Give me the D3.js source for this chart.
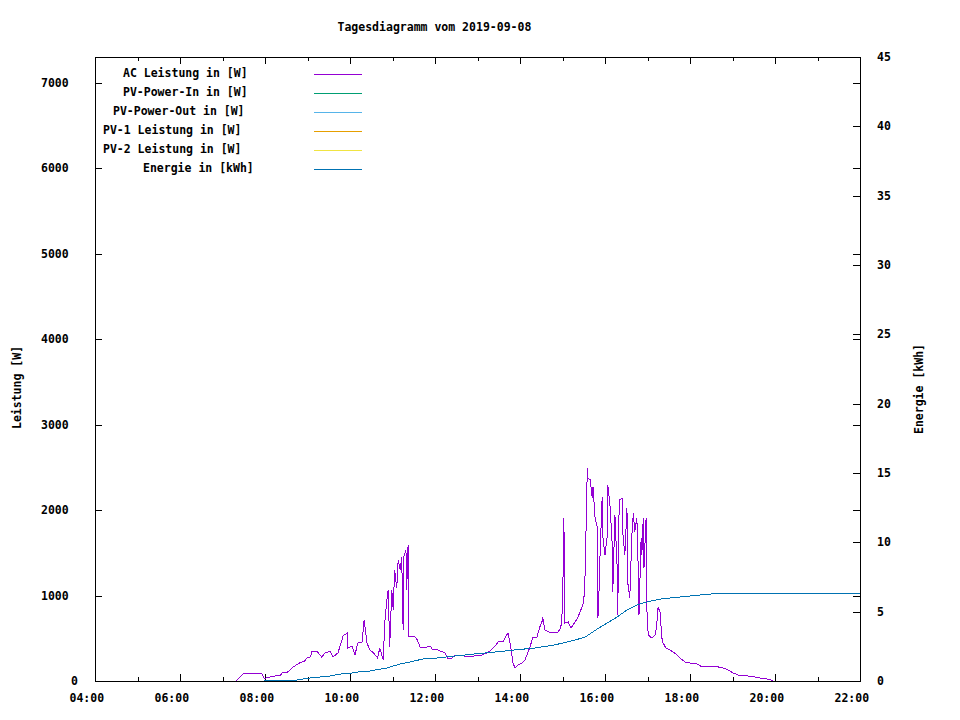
<!DOCTYPE html>
<html>
<head>
<meta charset="utf-8">
<script src="https://cdn.jsdelivr.net/npm/d3@7"></script>
<style>
  body { margin: 0; background: #fff; }
  text { font-family: "DejaVu Sans Mono", monospace; font-weight: bold; font-size: 11.5px; fill: #000; }
</style>
</head>
<body>
<div id="chart"></div>
<script>
// AC Leistung in W
var acTimes = ["07:19","07:25","07:29","07:39","07:46","07:53","07:56","07:59","08:01","08:07",
  "08:14","08:21","08:25","08:32","08:38","08:42","08:49","08:56","08:59","09:04",
  "09:06","09:13","09:20","09:25","09:32","09:36","09:43","09:49","09:50","09:56",
  "09:57","10:03","10:07","10:11","10:17","10:20","10:24","10:28","10:32","10:39",
  "10:42","10:47","10:49","10:52","10:54","10:56","10:59","11:01","11:03","11:06",
  "11:08","11:11","11:13","11:15","11:16","11:19","11:20","11:22","11:23","11:28",
  "11:32","11:35","11:39","11:43","11:49","11:53","11:57","12:04","12:14","12:18",
  "12:24","12:27","12:35","12:47","12:56","13:06","13:13","13:18","13:25","13:29",
  "13:36","13:42","13:43","13:46","13:49","13:50","13:53","13:57","14:03","14:07",
  "14:11","14:14","14:18","14:24","14:28","14:31","14:32","14:35","14:40","14:45",
  "14:52","14:56","14:59","15:01","15:02","15:03","15:08","15:12","15:18","15:22",
  "15:27","15:30","15:32","15:35","15:36","15:39","15:42","15:43","15:46","15:49",
  "15:50","15:51","15:53","15:56","15:57","16:00","16:03","16:04","16:07","16:10",
  "16:11","16:14","16:17","16:18","16:20","16:21","16:24","16:25","16:28","16:31",
  "16:32","16:35","16:38","16:40","16:42","16:45","16:47","16:48","16:51","16:52",
  "16:54","16:55","16:58","16:59","17:01","17:06","17:11","17:13","17:15","17:18",
  "17:20","17:22","17:26","17:32","17:36","17:42","17:46","17:53","18:00","18:10",
  "18:17","18:21","18:31","18:40","18:47","18:54","19:01","19:11","19:18","19:25",
  "19:32","19:39","19:49","19:54","19:57"];
var acWatt = [0,47,82,94,82,94,82,23,35,47,
  59,59,105,105,152,176,211,234,269,281,
  340,351,281,328,351,281,328,492,527,562,
  386,410,304,445,457,714,445,363,340,269,
  386,246,679,949,1066,398,1066,831,1300,1089,
  1417,1300,1452,597,1452,1534,1066,1593,515,515,
  515,480,398,386,398,410,363,363,328,269,
  269,293,304,281,293,304,328,351,410,457,
  457,550,562,445,281,211,152,187,211,246,
  328,398,504,515,632,691,749,597,574,562,
  562,597,679,1300,1909,679,691,621,691,749,
  855,925,1265,2494,2377,2354,2143,2272,1909,1803,
  738,890,1475,2155,1686,1475,1686,2295,2061,1628,
  1042,1944,1358,773,2084,2120,2143,1745,1475,2026,
  1159,972,1710,1967,1745,1909,1276,773,1675,1475,
  1909,1323,1909,855,539,504,539,656,867,796,
  515,445,386,363,340,304,269,222,211,199,
  164,164,164,164,152,129,94,59,70,47,
  47,35,23,12,0];

// Energie in kWh
var energyTimes = ["07:59","08:45","09:01","09:18","09:32","09:46","10:00","10:11","10:28","10:52",
  "11:11","11:25","11:43","12:03","12:28","12:56","13:25","13:53","14:21","14:49",
  "15:18","15:32","15:49","16:03","16:17","16:31","16:45","16:59","17:18","17:46",
  "18:00","18:28","19:01","22:00"];
var energyKwh = [0,0.07,0.2,0.29,0.36,0.5,0.55,0.65,0.72,0.94,
  1.23,1.37,1.59,1.66,1.8,1.95,2.09,2.24,2.38,2.6,
  2.96,3.17,3.75,4.18,4.61,5.12,5.48,5.7,5.91,6.06,
  6.13,6.27,6.34,6.34];

var legendNames = ["AC Leistung in [W]","PV-Power-In in [W]","PV-Power-Out in [W]","PV-1 Leistung in [W]","PV-2 Leistung in [W]","Energie in [kWh]"];
var legendColors = ["#9400d3","#009e73","#56b4e9","#e69f00","#f0e442","#0072b2"];
var y1Ticks = [0,1000,2000,3000,4000,5000,6000,7000];
var y2Ticks = [0,5,10,15,20,25,30,35,40,45];

var w = 960, h = 720;
var pLeft = 95, pRight = 860, pTop = 57, pBottom = 681;
var parseTime = d3.timeParse("%H:%M");
var fmt = d3.timeFormat("%H:%M");

var x = d3.scaleTime().domain([parseTime("04:00"), parseTime("22:00")]).range([pLeft, pRight]);
var y = d3.scaleLinear().domain([0, 7300]).range([pBottom, pTop]);
var y2 = d3.scaleLinear().domain([0, 45]).range([pBottom, pTop]);

var svg = d3.select("#chart").append("svg")
  .attr("width", w)
  .attr("height", h);

svg.append("rect").attr("width", w).attr("height", h).style("fill", "white");

// title, gnuplot puts it where a 10px wide font would be centred
var title = "Tagesdiagramm vom 2019-09-08";
svg.append("text").text(title)
  .attr("x", (pLeft + pRight) / 2 - title.length * 5)
  .attr("y", 31);

// axis labels
var lab1 = "Leistung [W]";
svg.append("text").text(lab1)
  .attr("transform", "translate(21," + ((pTop + pBottom) / 2 + lab1.length * 5) + ") rotate(-90)");
var lab2 = "Energie [kWh]";
svg.append("text").text(lab2)
  .attr("transform", "translate(923," + ((pTop + pBottom) / 2 + lab2.length * 5) + ") rotate(-90)");

var axes = svg.append("g").style("stroke", "black").style("stroke-width", 1).style("shape-rendering", "crispEdges");

// x ticks, every hour, labels on even hours
var hours = x.ticks(d3.timeHour.every(1));
hours.forEach(function(d) {
  var px = Math.round(x(d)) + 0.5;
  var major = d.getHours() % 2 == 0;
  var len = major ? 7 : 4;
  axes.append("line").attr("x1", px).attr("x2", px).attr("y1", pBottom).attr("y2", pBottom - len);
  axes.append("line").attr("x1", px).attr("x2", px).attr("y1", pTop).attr("y2", pTop + len);
  if (major) {
    svg.append("text").text(fmt(d))
      .attr("x", px - 26)
      .attr("y", 702);
  }
});

// left ticks (mirrored on the right)
y1Ticks.forEach(function(d) {
  var py = Math.round(y(d)) + 0.5;
  axes.append("line").attr("x1", pLeft).attr("x2", pLeft + 7).attr("y1", py).attr("y2", py);
  axes.append("line").attr("x1", pRight).attr("x2", pRight - 7).attr("y1", py).attr("y2", py);
  var s = String(d);
  svg.append("text").text(s)
    .attr("x", 81 - s.length * 10)
    .attr("y", py + 3);
});

// right ticks
y2Ticks.forEach(function(d) {
  var py = Math.round(y2(d)) + 0.5;
  axes.append("line").attr("x1", pRight).attr("x2", pRight - 7).attr("y1", py).attr("y2", py);
  svg.append("text").text(String(d))
    .attr("x", 877)
    .attr("y", py + 3);
});

// frame
axes.append("rect")
  .attr("x", pLeft + 0.5).attr("y", pTop + 0.5)
  .attr("width", pRight - pLeft).attr("height", pBottom - pTop)
  .style("fill", "none");

// data
var acData = acTimes.map(function(t, i) { return { t: parseTime(t), v: acWatt[i] }; });
var enData = energyTimes.map(function(t, i) { return { t: parseTime(t), v: energyKwh[i] }; });

var acLine = d3.line().x(function(d) { return x(d.t); }).y(function(d) { return y(d.v); });
var enLine = d3.line().x(function(d) { return x(d.t); }).y(function(d) { return y2(d.v); });

svg.append("path").datum(acData)
  .attr("d", acLine)
  .style("fill", "none")
  .style("stroke", legendColors[0])
  .style("stroke-width", 1)
  .style("shape-rendering", "crispEdges");

svg.append("path").datum(enData)
  .attr("d", enLine)
  .style("fill", "none")
  .style("stroke", legendColors[5])
  .style("stroke-width", 1)
  .style("shape-rendering", "crispEdges");

// key
legendNames.forEach(function(name, i) {
  var ly = 74.5 + i * 19;
  svg.append("text").text(name)
    .attr("x", 303 - name.length * 10)
    .attr("y", ly + 2.5);
  svg.append("line")
    .attr("x1", 314).attr("x2", 362)
    .attr("y1", ly).attr("y2", ly)
    .style("stroke", legendColors[i])
    .style("stroke-width", 1)
    .style("shape-rendering", "crispEdges");
});
</script>
</body>
</html>
